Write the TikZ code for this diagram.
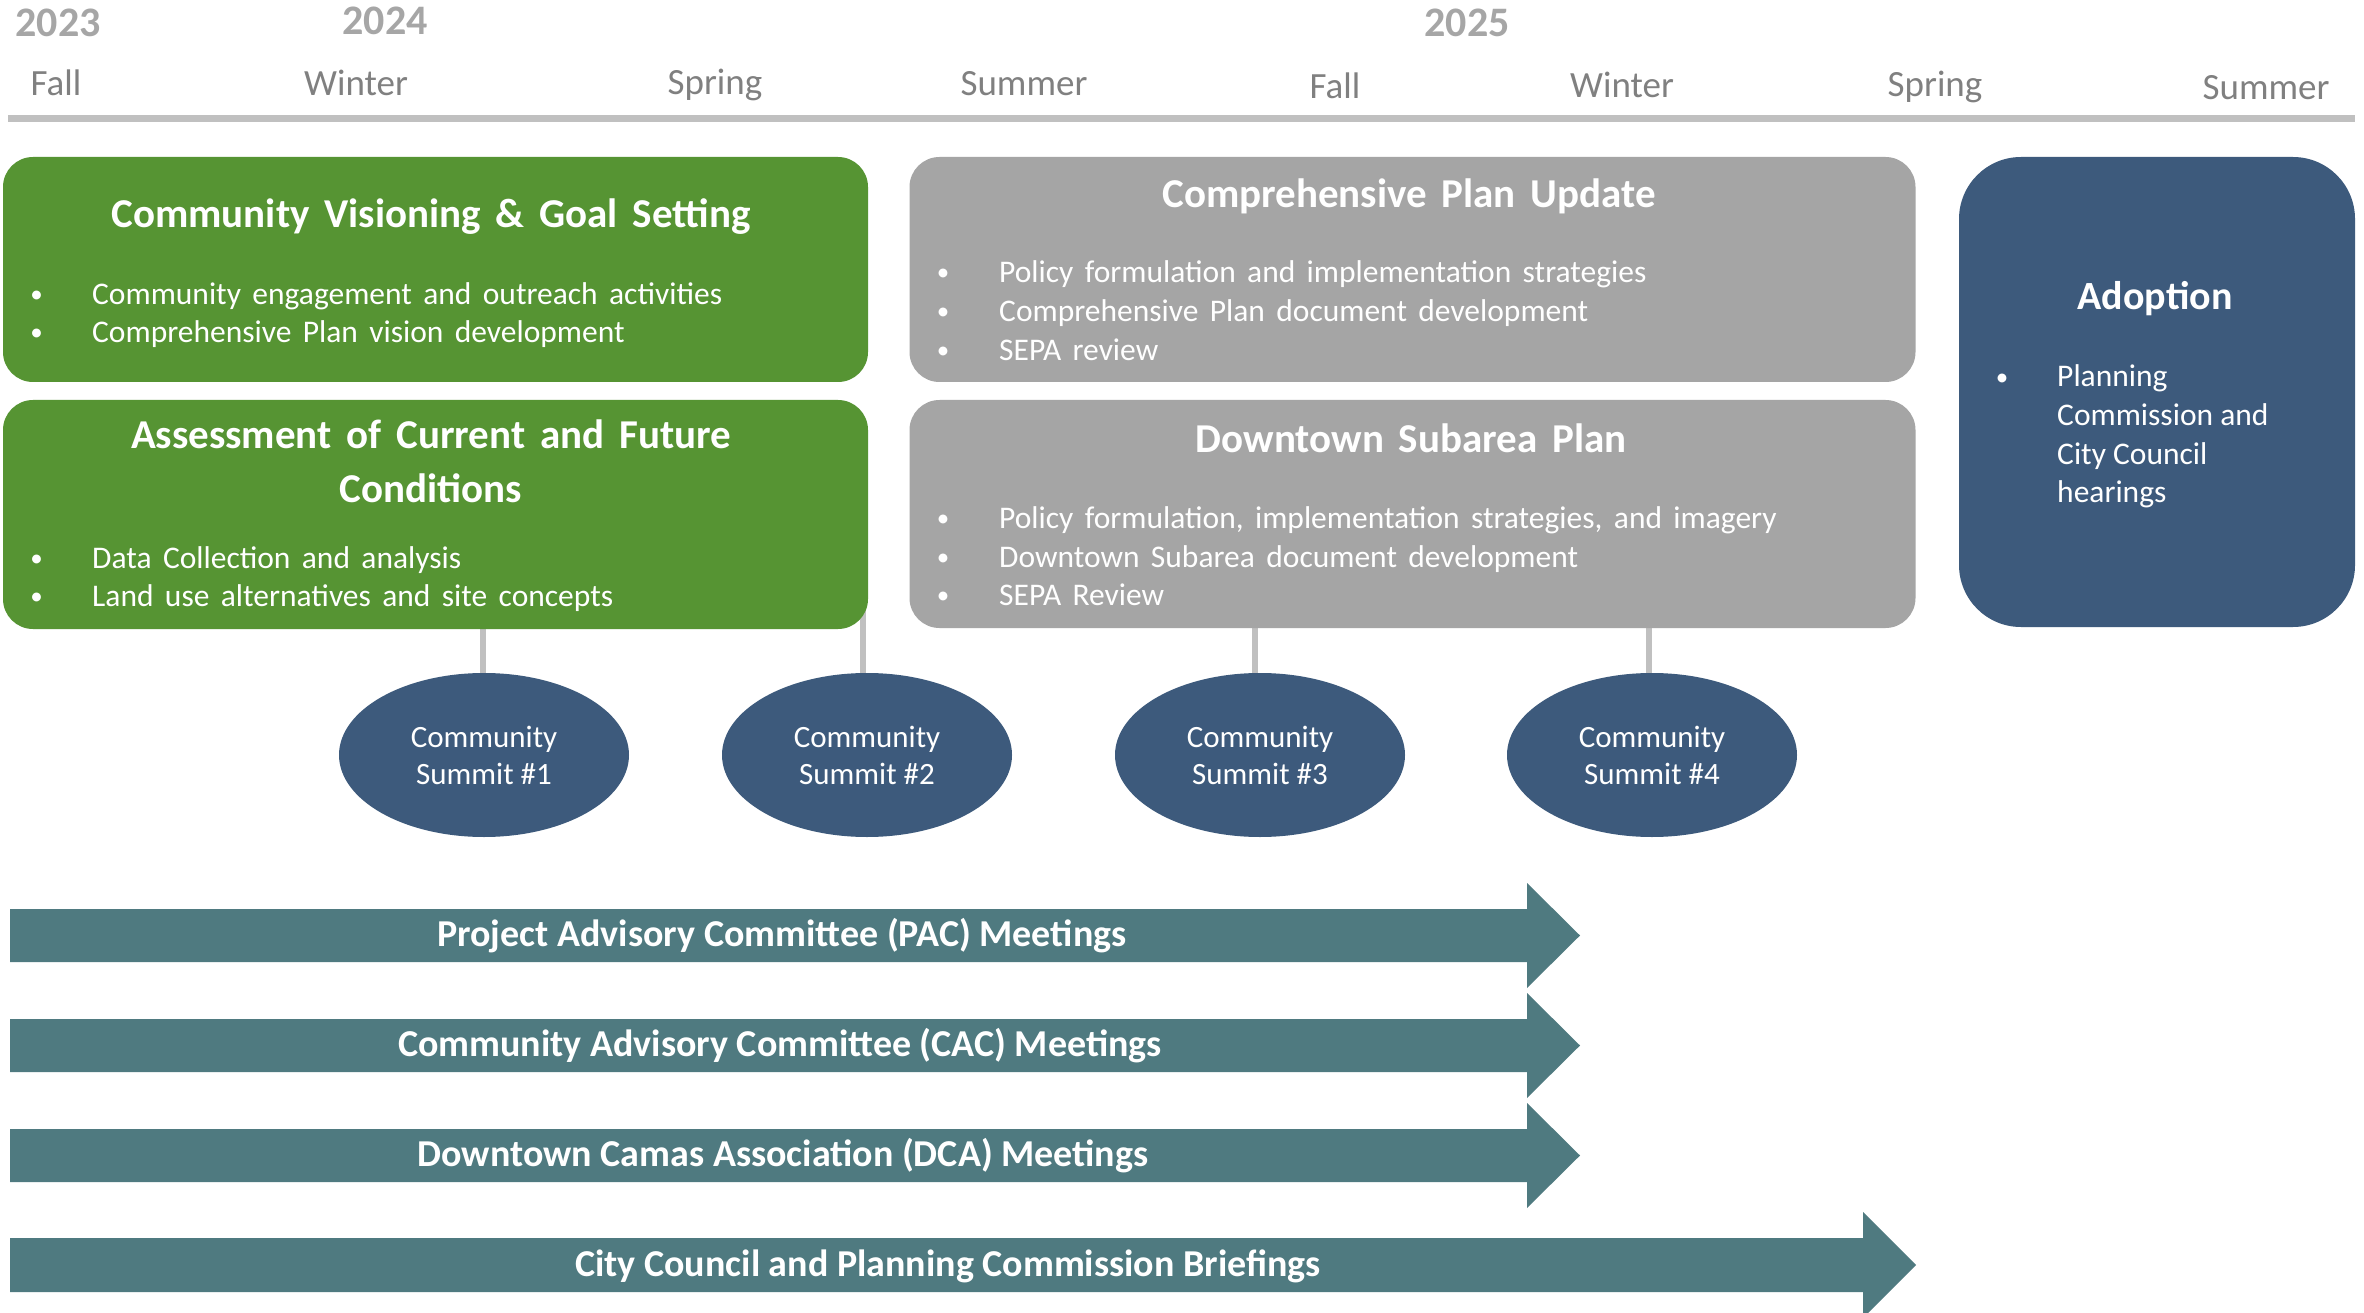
\documentclass[tikz,border=0pt]{standalone}
\usepackage{fontspec}
\setmainfont{Carlito}
\newfontfamily\ttlfont{Carlito}[WordSpace=2.2]
\newfontfamily\bodyfont{Carlito}[WordSpace=1.6]
\usetikzlibrary{shapes.geometric,backgrounds,calc}
\definecolor{phgreen}{RGB}{86,148,51}
\definecolor{phgray}{RGB}{165,165,165}
\definecolor{navy}{RGB}{61,90,124}
\definecolor{bandteal}{RGB}{79,122,128}
\definecolor{rulegray}{RGB}{192,192,192}
\definecolor{yeargray}{RGB}{166,166,166}
\definecolor{seasongray}{RGB}{128,128,128}
\begin{document}
\begin{tikzpicture}[x=1pt,y=-1pt,
  yr/.style={font=\fontsize{42}{50}\selectfont\bfseries, text=yeargray, inner sep=0, anchor=base},
  season/.style={font=\fontsize{37}{44}\selectfont, text=seasongray, inner sep=0, anchor=base},
  phase/.style={rectangle, rounded corners=30, inner sep=0, draw=none},
  ttl/.style={font=\ttlfont\fontsize{41}{53}\selectfont\bfseries, text=white, inner sep=0, anchor=base},
  adttl/.style={font=\fontsize{40}{53}\selectfont\bfseries, text=white, inner sep=0, anchor=base},
  bul/.style={font=\fontsize{25}{30}\selectfont, text=white, inner sep=0, anchor=base},
  btx/.style={font=\bodyfont\fontsize{31.5}{38}\selectfont, text=white, inner sep=0, anchor=base west},
  adtx/.style={font=\fontsize{31.5}{38}\selectfont, text=white, inner sep=0, anchor=base west},
  summit/.style={ellipse, fill=navy, minimum width=290, minimum height=164, inner sep=0, text=white, font=\fontsize{31}{37}\selectfont, align=center},
  link/.style={draw=rulegray, line width=6},
  band/.style={fill=bandteal},
  bandtxt/.style={font=\fontsize{38}{44}\selectfont\bfseries, text=white, inner sep=0, anchor=base}
]
\useasboundingbox (0,0) rectangle (2364,1313);

% timeline
\node[yr] (y23) at (58,37) {2023};
\node[yr] (y24) at (385,35) {2024};
\node[yr] (y25) at (1467,37) {2025};
\node[season] (s1) at (56,96) {Fall};
\node[season] (s2) at (356,96) {Winter};
\node[season] (s3) at (715,95) {Spring};
\node[season] (s4) at (1024,96) {Summer};
\node[season] (s5) at (1335,99) {Fall};
\node[season] (s6) at (1622,98) {Winter};
\node[season] (s7) at (1935,97) {Spring};
\node[season] (s8) at (2266,100) {Summer};
\coordinate (rl) at (8,119);
\coordinate (rr) at (2355,119);
\draw[draw=rulegray, line width=7] (rl) -- (rr);

% phase boxes
\node[phase, fill=phgreen, minimum width=865, minimum height=225] (cv) at (435.5,269.5) {};
\node[phase, fill=phgreen, minimum width=865, minimum height=229] (ac) at (435.5,514.5) {};
\node[phase, fill=phgray, minimum width=1006, minimum height=225] (cp) at (1412.5,269.5) {};
\node[phase, fill=phgray, minimum width=1006, minimum height=228] (ds) at (1412.5,514) {};
\node[phase, rounded corners=62, fill=navy, minimum width=396, minimum height=470] (ad) at (2157,392) {};

% titles
\node[ttl] (cvt) at (431,228) {Community Visioning \& Goal Setting};
\node[ttl] (act1) at (431,448) {Assessment of Current and Future};
\node[ttl] (act2) at (431,502) {Conditions};
\node[ttl] (cpt) at (1409,208) {Comprehensive Plan Update};
\node[ttl] (dst) at (1411,452) {Downtown Subarea Plan};
\node[adttl] (adt) at (2155,310) {Adoption};

% bullets green
\node[bul] (cvb1) at (36.5,303) {•};
\node[btx] (cvx1) at (92,305) {Community engagement and outreach activities};
\node[bul] (cvb2) at (36.5,341) {•};
\node[btx] (cvx2) at (92,343) {Comprehensive Plan vision development};
\node[bul] (acb1) at (36.5,566) {•};
\node[btx] (acx1) at (92,568) {Data Collection and analysis};
\node[bul] (acb2) at (36.5,604) {•};
\node[btx] (acx2) at (92,606) {Land use alternatives and site concepts};

% bullets gray
\node[bul] (cpb1) at (943,281) {•};
\node[btx] (cpx1) at (999,283) {Policy formulation and implementation strategies};
\node[bul] (cpb2) at (943,320) {•};
\node[btx] (cpx2) at (999,322) {Comprehensive Plan document development};
\node[bul] (cpb3) at (943,359) {•};
\node[btx] (cpx3) at (999,361) {SEPA review};
\node[bul] (dsb1) at (943,526) {•};
\node[btx] (dsx1) at (999,528) {Policy formulation, implementation strategies, and imagery};
\node[bul] (dsb2) at (943,565) {•};
\node[btx] (dsx2) at (999,567) {Downtown Subarea document development};
\node[bul] (dsb3) at (943,603) {•};
\node[btx] (dsx3) at (999,605) {SEPA Review};

% adoption bullet
\node[bul] (adb1) at (2002,385) {•};
\node[adtx] (adx1) at (2057,387) {Planning};
\node[adtx] (adx2) at (2057,425) {Commission and};
\node[adtx] (adx3) at (2057,464) {City Council};
\node[adtx] (adx4) at (2057,502) {hearings};

% summits
\node[summit] (e1) at (484,755) {Community\\Summit \#1};
\node[summit] (e2) at (867,755) {Community\\Summit \#2};
\node[summit] (e3) at (1260,755) {Community\\Summit \#3};
\node[summit] (e4) at (1652,755) {Community\\Summit \#4};

% bands
\fill[band] (10,909) -- (1527,909) -- (1527,883) -- (1580,935.5) -- (1527,988) -- (1527,962) -- (10,962) -- cycle;
\node[bandtxt] (pac) at (782,946) {Project Advisory Committee (PAC) Meetings};
\fill[band] (10,1019) -- (1527,1019) -- (1527,993) -- (1580,1045.5) -- (1527,1098) -- (1527,1072) -- (10,1072) -- cycle;
\node[bandtxt] (cac) at (780,1056) {Community Advisory Committee (CAC) Meetings};
\fill[band] (10,1129) -- (1527,1129) -- (1527,1103) -- (1580,1155.5) -- (1527,1208) -- (1527,1182) -- (10,1182) -- cycle;
\node[bandtxt] (dca) at (783,1166) {Downtown Camas Association (DCA) Meetings};
\fill[band] (10,1238) -- (1863,1238) -- (1863,1212) -- (1916,1265) -- (1863,1318) -- (1863,1292) -- (10,1292) -- cycle;
\node[bandtxt] (ccb) at (948,1276) {City Council and Planning Commission Briefings};

\begin{scope}[on background layer]
\fill[white] (0,0) rectangle (2364,1313);
\draw[link] ([xshift=-1pt]e1.north) -- ([xshift=-1pt]e1.north |- ac.south);
\draw[link] ([xshift=-4pt]e2.north) -- ($([xshift=-4pt]e2.north |- ac.south)+(0,-26)$);
\draw[link] ([xshift=-5pt]e3.north) -- ([xshift=-5pt]e3.north |- ds.south);
\draw[link] ([xshift=-3pt]e4.north) -- ([xshift=-3pt]e4.north |- ds.south);
\end{scope}
\end{tikzpicture}
\end{document}
